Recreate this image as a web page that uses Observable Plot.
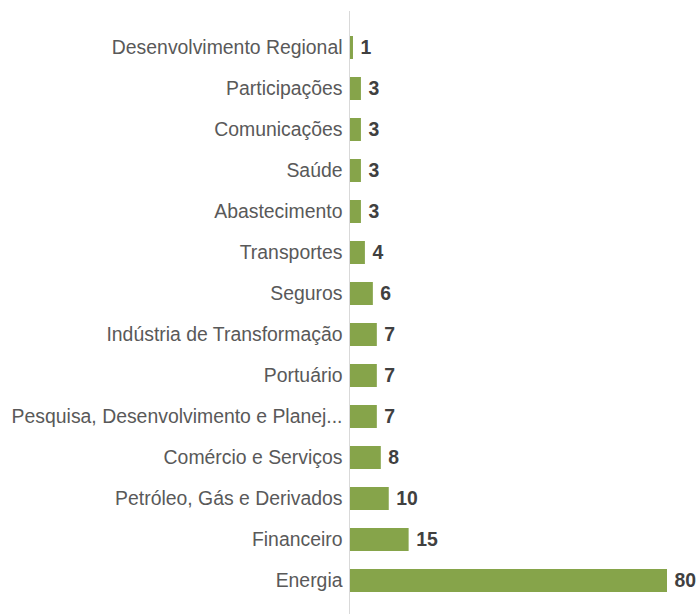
<!DOCTYPE html>
<html>
<head>
<meta charset="utf-8">
<script src="https://cdn.jsdelivr.net/npm/d3@7"></script>
<script src="https://cdn.jsdelivr.net/npm/@observablehq/plot@0.6"></script>
<style>
  html, body { margin: 0; padding: 0; background: #fff; }
  #chart svg { display: block; }
</style>
</head>
<body>
<div id="chart"></div>
<script>
const categories = [
  "Desenvolvimento Regional",
  "Participações",
  "Comunicações",
  "Saúde",
  "Abastecimento",
  "Transportes",
  "Seguros",
  "Indústria de Transformação",
  "Portuário",
  "Pesquisa, Desenvolvimento e Planej...",
  "Comércio e Serviços",
  "Petróleo, Gás e Derivados",
  "Financeiro",
  "Energia"
];
const values = [1, 3, 3, 3, 3, 4, 6, 7, 7, 7, 8, 10, 15, 80];

const data = categories.map((c, i) => ({category: c, value: values[i]}));

const chart = Plot.plot({
  width: 697,
  height: 614,
  marginLeft: 349,
  marginRight: 30,
  marginTop: 23,
  marginBottom: 9,
  style: {fontFamily: "'Liberation Sans', Arial, sans-serif", background: "#fff"},
  x: {domain: [0, 80], axis: null},
  y: {domain: categories, paddingInner: 0.445, paddingOuter: 0.2445, axis: null},
  marks: [
    Plot.barX(data, {x: "value", y: "category", fill: "#86a44a"}),
    Plot.ruleX([0], {stroke: "#d9d9d9", strokeWidth: 1, insetTop: -12, insetBottom: -9}),
    Plot.axisY({tickSize: 0, tickPadding: 7, label: null, fontSize: 19.4, color: "#595959"}),
    Plot.text(data, {x: "value", y: "category", text: d => String(d.value), textAnchor: "start", dx: 7, fontSize: 19.4, fontWeight: "bold", fill: "#404040"})
  ]
});
document.getElementById("chart").appendChild(chart);
</script>
</body>
</html>
